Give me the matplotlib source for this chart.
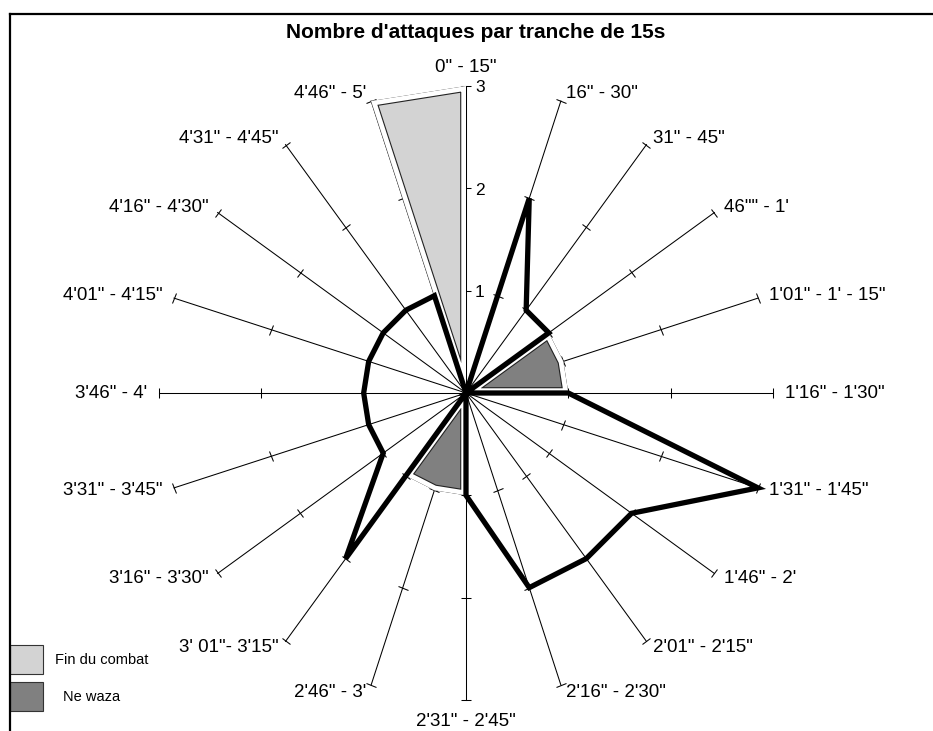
import numpy as np
import matplotlib
matplotlib.use("Agg")
import matplotlib.pyplot as plt
from matplotlib.markers import MarkerStyle
from matplotlib.transforms import Affine2D
from matplotlib.patches import Rectangle
from matplotlib.lines import Line2D

plt.rcParams["font.family"] = ["Liberation Sans", "DejaVu Sans"]

# tranches de 15 s, dans le sens horaire depuis le haut
tranches = [
    '0" - 15"', '16" - 30"', '31" - 45"', '46"" - 1\'', '1\'01" - 1\' - 15"',
    '1\'16" - 1\'30"', '1\'31" - 1\'45"', '1\'46" - 2\'', '2\'01" - 2\'15"',
    '2\'16" - 2\'30"', '2\'31" - 2\'45"', '2\'46" - 3\'', '3\' 01"- 3\'15"',
    '3\'16" - 3\'30"', '3\'31" - 3\'45"', '3\'46" - 4\'', '4\'01" - 4\'15"',
    '4\'16" - 4\'30"', '4\'31" - 4\'45"', '4\'46" - 5\'',
]
attaques   = [0, 2, 1, 1, 0, 1, 3, 2, 2, 2, 1, 0, 2, 1, 1, 1, 1, 1, 1, 1]
fin_combat = [3, 0, 0, 0, 0, 0, 0, 0, 0, 0, 0, 0, 0, 0, 0, 0, 0, 0, 0, 3]
ne_waza    = [0, 0, 0, 1, 1, 1, 0, 0, 0, 0, 1, 1, 1, 0, 0, 0, 0, 0, 0, 0]
graduations = [1, 2, 3]

RMAX   = 3
W, H   = 933, 731
CX, CY = 466, 393      # centre in pixels
RPIX   = 307           # radius of value 3 in pixels

n      = len(tranches)
angles = np.arange(n) * 2 * np.pi / n
closed = np.append(angles, angles[0])


def _close(v):
    return np.append(v, v[0])


fig = plt.figure(figsize=(W / 100, H / 100), dpi=100)
ax = fig.add_axes([(CX - RPIX) / W, (H - CY - RPIX) / H, 2 * RPIX / W, 2 * RPIX / H],
                  projection="polar")
ax.set_theta_zero_location("N")
ax.set_theta_direction(-1)
ax.set_ylim(0, RMAX)
ax.set_axis_off()

# spokes + ticks
for th in angles:
    ax.plot([th, th], [0, RMAX], color="black", lw=0.75, zorder=1, clip_on=False)
    mk = MarkerStyle("|", transform=Affine2D().rotate_deg(90 - np.degrees(th)))
    ax.plot([th] * len(graduations), graduations, ls="none", marker=mk, ms=7,
            mew=0.75, color="black", zorder=1, clip_on=False)

# filled series, drawn with an inset outline like the original
for vals, col in [(fin_combat, "#d3d3d3"), (ne_waza, "#808080")]:
    poly = ax.fill(closed, _close(vals), color=col, lw=0, zorder=2)[0]
    for lw, c in [(8.4, "#222222"), (6.8, "white")]:
        ln, = ax.plot(closed, _close(vals), color=c, lw=lw, zorder=3,
                      solid_joinstyle="miter")
        ln.set_clip_path(poly)

# line series
ax.plot(closed, _close(attaques), color="black", lw=3.8, zorder=4,
        solid_joinstyle="miter", clip_on=False)

# spoke labels
for th, lab in zip(angles, tranches):
    s, c = np.sin(th), np.cos(th)
    if abs(s) < 1e-6:
        ha = "center"
        va = "bottom" if c > 0 else "top"
        off = (0, 10 if c > 0 else -13)
    else:
        ha = "left" if s > 0 else "right"
        va = "center"
        off = (np.sign(s) * (4 + 8 * s * s), 8 * c)
    ax.annotate(lab, xy=(th, RMAX), xytext=off, textcoords="offset pixels",
                ha=ha, va=va, fontsize=13.5, annotation_clip=False)

# value axis labels on the first spoke
for g in graduations:
    ax.annotate(str(g), xy=(0, g), xytext=(9, -2), textcoords="offset pixels",
                ha="left", va="center", fontsize=12.5, annotation_clip=False)

fig.text(476 / W, 1 - 32 / H, "Nombre d'attaques par tranche de 15s",
         ha="center", va="center", fontsize=15, fontweight="bold")

# legend
for y0, col, lab, tx in [(645, "#d3d3d3", "Fin du combat", 55), (682, "#808080", "Ne waza", 63)]:
    fig.add_artist(Rectangle((10 / W, 1 - (y0 + 29) / H), 33 / W, 29 / H,
                             facecolor=col, edgecolor="#333333", lw=0.8,
                             transform=fig.transFigure))
    fig.text(tx / W, 1 - (y0 + 15) / H, lab, ha="left", va="center", fontsize=10.5)

# chart frame (cropped)
fig.add_artist(Line2D([10 / W, 1], [1 - 14 / H, 1 - 14 / H], color="black", lw=1.6,
                      transform=fig.transFigure))
fig.add_artist(Line2D([10 / W, 10 / W], [0, 1 - 14 / H], color="black", lw=1.6,
                      transform=fig.transFigure))

fig.savefig("out.png", dpi=100)
